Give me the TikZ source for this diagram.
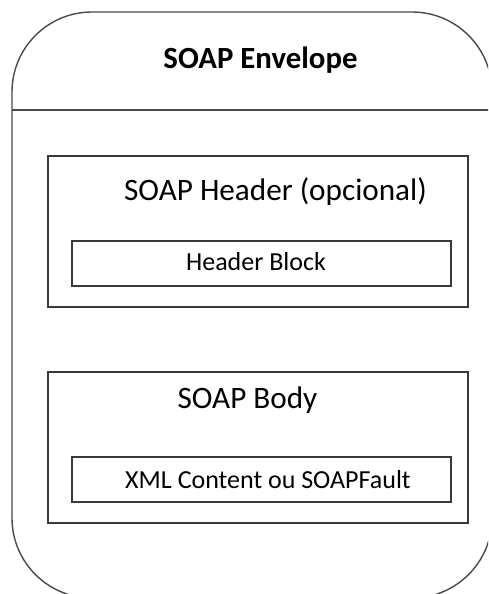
\documentclass[tikz,border=0pt]{standalone}
\usepackage{fontspec}
\setmainfont{Carlito}
\definecolor{edge}{HTML}{3A3A3A}
\definecolor{outeredge}{HTML}{4A4A4A}
\begin{document}
\begin{tikzpicture}[x=1pt,y=-1pt,
  envelopebox/.style={draw=outeredge, line width=1.4pt, rounded corners=80pt,
    minimum width=480pt, minimum height=586pt, inner sep=0pt},
  partbox/.style={draw=edge, line width=1.5pt, minimum width=420pt,
    minimum height=151pt, inner sep=0pt},
  blockbox/.style={draw=edge, line width=1.5pt, minimum width=379pt,
    minimum height=45pt, inner sep=0pt},
  titletext/.style={anchor=base, inner sep=0pt, font=\fontsize{30.8}{37}\selectfont\bfseries},
  parttext/.style={anchor=base, inner sep=0pt, font=\fontsize{31.2}{37}\selectfont},
  blocktext/.style={anchor=base, inner sep=0pt, font=\fontsize{26}{31}\selectfont}]
  \useasboundingbox (0,0) rectangle (488,594);
  \clip (0,0) rectangle (488,594);
  \fill[white] (0,0) rectangle (488,594);

  % envelope with its title strip
  \node[envelopebox] (envelope) at (252,305) {};
  \coordinate (sepL) at (12,110);
  \coordinate (sepR) at (492,110);
  \draw[outeredge, line width=1.4pt] (sepL) -- (sepR);
  \node[titletext] (envtitle) at (260.5,68) {SOAP Envelope};

  % header part
  \node[partbox] (header) at (258,231.5) {};
  \node[parttext] (headertitle) at (275.5,200) {SOAP Header (opcional)};
  \node[blockbox] (headerblock) at (261.5,263.5) {};
  \node[blocktext] (headerblocktext) at (256,270) {Header Block};

  % body part
  \node[partbox] (body) at (258,447.5) {};
  \node[parttext] (bodytitle) at (247.5,408) {SOAP Body};
  \node[blockbox] (bodyblock) at (261.5,479.5) {};
  \node[blocktext] (bodyblocktext) at (268,488) {XML Content ou SOAPFault};
\end{tikzpicture}
\end{document}
